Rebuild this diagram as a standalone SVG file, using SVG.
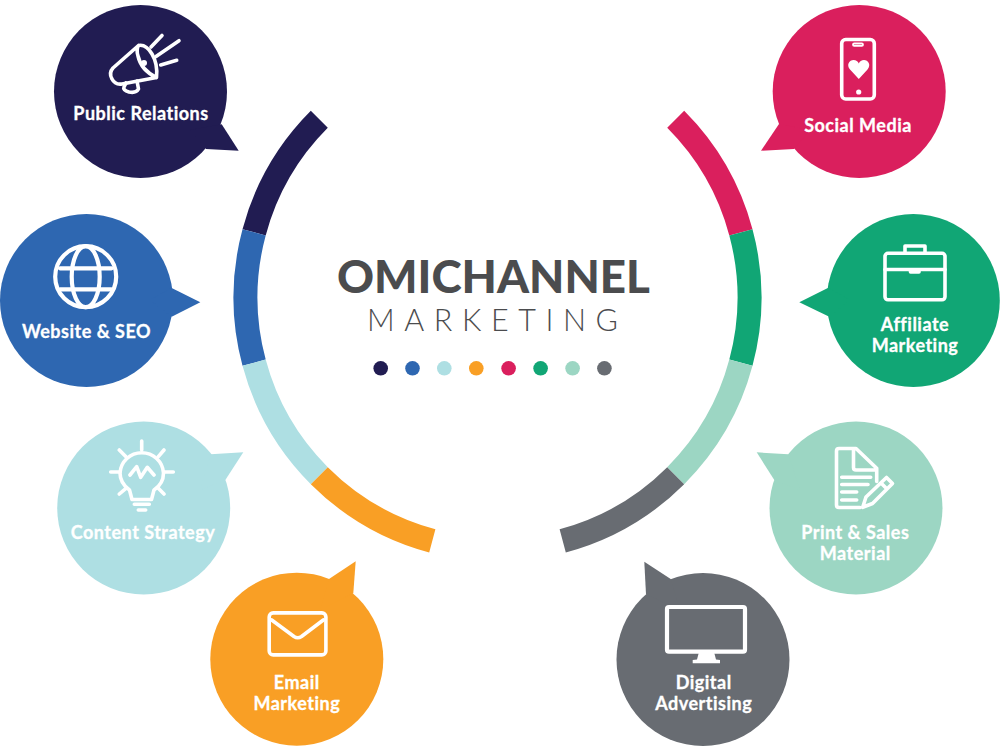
<svg xmlns="http://www.w3.org/2000/svg" width="1000" height="753" viewBox="0 0 1000 753">
<style>
.lbl{font-family:"Lato","Liberation Sans",sans-serif;font-weight:700;font-size:18px;fill:#fff;stroke:#fff;stroke-width:.3px;text-anchor:middle;letter-spacing:.5px}
.ic{fill:none;stroke:#fff;stroke-width:3.6;stroke-linecap:round;stroke-linejoin:round}
.wf{fill:#fff;stroke:none}
.arc{fill:none;stroke-width:24}
</style>
<rect width="1000" height="753" fill="#fff"/>
<g id="connectors">
<path class="arc" stroke="#211c52" d="M319.3 119.3A252 252 0 0 0 254.1 232.3"/>
<path class="arc" stroke="#2e67b1" d="M254.1 232.3A252 252 0 0 0 254.1 362.7"/>
<path class="arc" stroke="#aedfe3" d="M254.1 362.7A252 252 0 0 0 319.3 475.7"/>
<path class="arc" stroke="#f99f25" d="M319.3 475.7A252 252 0 0 0 432.3 540.9"/>
<path class="arc" stroke="#da1f5d" d="M675.7 119.3A252 252 0 0 1 740.9 232.3"/>
<path class="arc" stroke="#11a675" d="M740.9 232.3A252 252 0 0 1 740.9 362.7"/>
<path class="arc" stroke="#9cd6c3" d="M740.9 362.7A252 252 0 0 1 675.7 475.7"/>
<path class="arc" stroke="#686c72" d="M675.7 475.7A252 252 0 0 1 562.7 540.9"/>
</g>
<g id="title">
<text x="493.5" y="293" font-family="Lato,'Liberation Sans',sans-serif" font-weight="900" font-size="46" fill="#4b4c4e" text-anchor="middle" textLength="313" lengthAdjust="spacingAndGlyphs">OMICHANNEL</text>
<text x="492.5" y="331" font-family="Lato,'Liberation Sans',sans-serif" font-weight="300" font-size="30.5" fill="#4b4c4e" text-anchor="middle" textLength="251">MARKETING</text>
<circle cx="380.7" cy="368.3" r="7.3" fill="#211c52"/>
<circle cx="412.5" cy="368.3" r="7.3" fill="#2e67b1"/>
<circle cx="444.3" cy="368.3" r="7.3" fill="#aedfe3"/>
<circle cx="476.3" cy="368.3" r="7.3" fill="#f99f25"/>
<circle cx="508.6" cy="368.3" r="7.3" fill="#da1f5d"/>
<circle cx="540.6" cy="368.3" r="7.3" fill="#11a675"/>
<circle cx="572.6" cy="368.3" r="7.3" fill="#9cd6c3"/>
<circle cx="604.4" cy="368.3" r="7.3" fill="#686c72"/>
</g>
<g id="public-relations">
<circle cx="140.5" cy="91.5" r="86.5" fill="#211c52"/>
<polygon points="221.7,124.3 238.7,150.7 206,149 190,130" fill="#211c52"/>
<path class="ic" d="M138.5 45.5L113 68Q108.5 73 112 79Q115 85 122 84L156.5 77.5Q158 64 152 54Q146 44 138.5 45.5Q136 50 138 56Q141 70 156.5 77.5"/>
<path class="ic" d="M126 83L124 87Q122.5 90 129 92Q136 93.5 138.5 89L137 81M151 47L162 35.5M156 56.5L179 40.7M160.7 65L176.7 60.3"/>
<circle class="wf" cx="144" cy="63" r="3"/>
<text class="lbl" x="141" y="119.8">Public Relations</text>
</g>
<g id="website-seo">
<circle cx="86.5" cy="300.5" r="86.5" fill="#2e67b1"/>
<polygon points="171.7,288 200.3,302.3 171.7,316.7 150,300" fill="#2e67b1"/>
<g class="ic" style="stroke-width:4.2">
<circle cx="85.7" cy="276.7" r="30.5"/>
<ellipse cx="85.7" cy="276.7" rx="14" ry="30.5"/>
<path d="M60 268.3H111.5M60 289.3H111.5"/>
</g>
<text class="lbl" x="86.5" y="337.8">Website &amp; SEO</text>
</g>
<g id="content-strategy">
<circle cx="143.7" cy="508" r="86.5" fill="#aedfe3"/>
<polygon points="210.7,454.3 243.3,452.3 225.3,480 200,490" fill="#aedfe3"/>
<path class="ic" d="M132 499.5H151.5L154 490C160 486 163.5 480 163.5 473A21.8 21.8 0 0 0 120 473C120 480 124 486 129.5 490Z"/>
<path class="ic" d="M134.3 504.3H149.3M138.3 510H145.7M141.7 441V450M110.7 472H120M164 472H173.3M119.3 450L126 456.7M164 450L158.3 456.7M119.3 494L126 488.3M164 494L158.3 488.3M130 475L136.7 466.7L140.7 477.3L147.3 467.3L154 475"/>
<text class="lbl" x="143" y="538.8">Content Strategy</text>
</g>
<g id="email-marketing">
<circle cx="296.8" cy="659.2" r="86.5" fill="#f99f25"/>
<polygon points="329,579 355.7,561.3 353.3,593.3 320,610" fill="#f99f25"/>
<rect class="ic" x="269.2" y="612.9" width="56.7" height="42" rx="4"/>
<path class="ic" d="M271.7 620L294 636.5Q297.7 639 301.5 636.5L323.3 620"/>
<text class="lbl" x="296.8" y="688.8">Email</text>
<text class="lbl" x="296.8" y="710.3">Marketing</text>
</g>
<g id="social-media">
<circle cx="859.2" cy="91.5" r="86.5" fill="#da1f5d"/>
<polygon points="779,124 761,150.7 794,149 810,130" fill="#da1f5d"/>
<rect class="ic" x="841.7" y="39.5" width="32.6" height="59.5" rx="4"/>
<rect class="ic" x="853" y="43.5" width="10" height="2.4" rx="1.2" style="stroke-width:1.8"/>
<circle class="wf" cx="858.7" cy="92" r="2.6"/>
<path class="wf" d="M858.8 79L850 69.5C846 64.5 849.5 60 853.5 60C856 60 858 61.5 858.8 63.5C859.6 61.5 861.6 60 864 60C868 60 871.5 64.5 867.5 69.5Z"/>
<text class="lbl" x="858" y="132">Social Media</text>
</g>
<g id="affiliate-marketing">
<circle cx="913.3" cy="300.5" r="86.5" fill="#11a675"/>
<polygon points="828.3,287.7 799.3,302.3 829.3,316.7 850,300" fill="#11a675"/>
<rect class="ic" x="885" y="253.3" width="60" height="46.5" rx="3"/>
<path class="ic" d="M905 253V246H925V253M885 269.5H945M910.5 270V272H919V270"/>
<text class="lbl" x="915" y="331">Affiliate</text>
<text class="lbl" x="915" y="352">Marketing</text>
</g>
<g id="print-sales-material">
<circle cx="856" cy="508" r="86.5" fill="#9cd6c3"/>
<polygon points="788.3,454.3 756.7,452.3 774.3,480 800,490" fill="#9cd6c3"/>
<path class="ic" d="M860 507.5H839Q836.5 507.5 836.5 505V451Q836.5 448.5 839 448.5H856L876.7 468.3V481.5M853.5 449V467.5Q853.5 470 856 470H876.5M841.7 477.3H870.7M841.7 484.5H868M841.7 492H856.7M841.7 500H856.7"/>
<path class="ic" d="M862.7 507.3L866 497L886.5 477.5L892.5 483.5L872.5 503.5ZM881 483L887 489"/>
<text class="lbl" x="855.3" y="538.8">Print &amp; Sales</text>
<text class="lbl" x="855.3" y="560.3">Material</text>
</g>
<g id="digital-advertising">
<circle cx="703" cy="659.5" r="86.5" fill="#686c72"/>
<polygon points="670.7,579 644.3,561.7 646,594.3 680,610" fill="#686c72"/>
<rect class="ic" x="667" y="607" width="78" height="44.7" rx="2" style="stroke-width:4.2"/>
<path class="wf" d="M699 652H714L716 659.5L720 660V663.3H692.7V660L697 659.5Z"/>
<text class="lbl" x="703.7" y="689.3">Digital</text>
<text class="lbl" x="703.7" y="710.3">Advertising</text>
</g>
</svg>
